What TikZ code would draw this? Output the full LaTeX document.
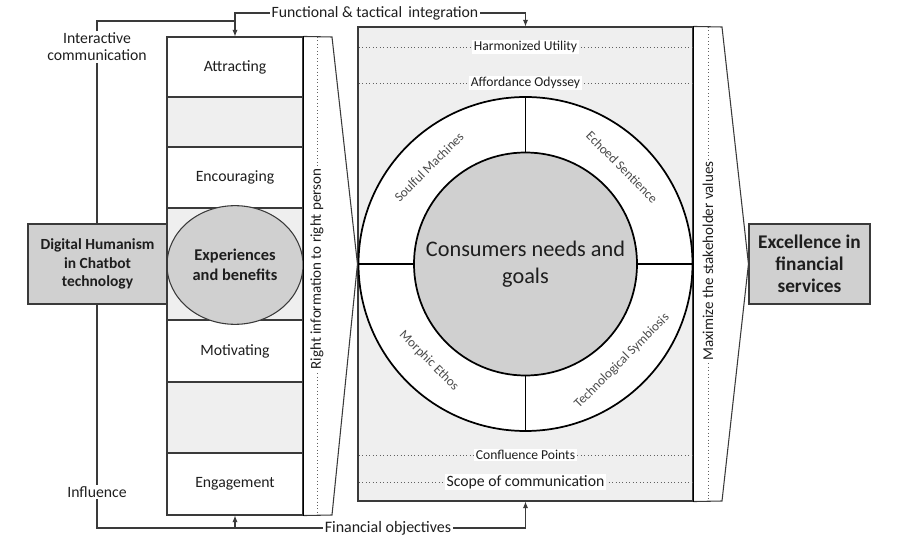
\documentclass[tikz,border=0pt]{standalone}
\usepackage{fontspec}
\setmainfont{Carlito}
\usetikzlibrary{shapes.geometric,arrows.meta}
\definecolor{cellgray}{HTML}{EFEFEF}
\definecolor{boxgray}{HTML}{D0D0D0}
\definecolor{linec}{HTML}{3A3A3A}
\definecolor{txt}{HTML}{1E1E1E}
\tikzset{
  cell/.style={draw=linec, line width=0.8pt, fill=white, minimum width=102pt, inner sep=0pt, text=txt, font=\fontsize{11.8}{13.5}\selectfont},
  graycell/.style={cell, fill=cellgray},
  keybox/.style={draw=linec, line width=0.8pt, fill=boxgray, align=center, inner sep=0pt, text=txt},
  lbl/.style={text=txt, font=\fontsize{11.8}{12.75}\selectfont, inner sep=1.2pt},
  smalllbl/.style={lbl, font=\fontsize{10.2}{12}\selectfont, fill=white},
  ringlbl/.style={text=txt!80, font=\fontsize{9.9}{11}\selectfont, inner sep=0pt},
  dotl/.style={draw=linec!80, dotted, line width=0.6pt},
  conn/.style={draw=linec, line width=0.8pt},
  arr/.style={conn, -{Latex[length=5pt,width=4pt]}},
  ringline/.style={draw=black, line width=1.3pt}
}
\begin{document}
\begin{tikzpicture}[x=0.75pt, y=-0.75pt]
\useasboundingbox (0,0) rectangle (900,545);

% central box
\node[draw=linec, line width=0.8pt, fill=cellgray, minimum width=251.25pt, minimum height=355.5pt, inner sep=0pt] (cbox) at (525.5,264) {};
\draw[dotl] (359,47) -- node[smalllbl] (hu) {Harmonized Utility} (692,47);
\draw[dotl] (359,83) -- node[smalllbl] (ao) {Affordance Odyssey} (692,83);
\draw[dotl] (359,455) -- node[smalllbl] (cp) {Confluence Points} (692,455);
\draw[dotl] (359,482) -- node[lbl, fill=white] (sc) {Scope of communication} (692,482);

% ring
\node[circle, ringline, fill=white, minimum size=250.5pt, inner sep=0pt] (ring) at (525.5,264) {};
\node[circle, ringline, fill=boxgray, minimum size=167.25pt, inner sep=0pt, align=center, text=txt, font=\fontsize{16.7}{20}\selectfont] (cons) at (525.5,264) {Consumers needs and\\goals};
\draw[ringline] (ring.north) -- (cons.north);
\draw[ringline] (ring.south) -- (cons.south);
\draw[ringline] (ring.west) -- (cons.west);
\draw[ringline] (ring.east) -- (cons.east);
\node[ringlbl, rotate=45] (sm) at (429,167) {Soulful Machines};
\node[ringlbl, rotate=-45] (es) at (622,167) {Echoed Sentience};
\node[ringlbl, rotate=-45] (me) at (429,361) {Morphic Ethos};
\node[ringlbl, rotate=45] (ts) at (622,361) {Technological Symbiosis};

% left column
\node[cell, minimum height=45pt] (att) at (235,67) {Attracting};
\node[graycell, minimum height=37.5pt] (g1) at (235,122) {};
\node[cell, minimum height=45.75pt] (enc) at (235,177.5) {Encouraging};
\node[graycell, minimum height=84pt] (g2) at (235,264) {};
\node[cell, minimum height=46.5pt] (mot) at (235,351) {Motivating};
\node[graycell, minimum height=53.25pt] (g3) at (235,417.5) {};
\node[cell, minimum height=46.5pt] (eng) at (235,484) {Engagement};
\node[ellipse, draw=linec, line width=0.8pt, fill=boxgray, minimum width=102pt, minimum height=89pt, inner sep=0pt, align=center, text=txt, font=\bfseries\fontsize{12.3}{15}\selectfont] (exp) at (235,265) {Experiences\\and benefits};

% left strip / chevron
\draw[conn] (att.north east) -- (332,37) -- (cbox.west) -- (332,515) -- (eng.south east);
\draw[dotl] (317,37) -- (317,515);
\draw[line width=1.2pt, black] (att.north east) -- (eng.south east);
\node[lbl, rotate=90, fill=white, font=\fontsize{11.3}{12}\selectfont] (rip) at (317,269) {Right information to right person};

% right strip / chevron
\node[keybox, minimum width=90.75pt, minimum height=60pt, font=\bfseries\fontsize{14.5}{16.5}\selectfont] (exc) at (809.5,264) {Excellence in\\financial\\services};
\draw[conn] (cbox.north east) -- (722,27) -- (exc.west) -- (722,501) -- (cbox.south east);
\draw[dotl] (708,27) -- (708,501);
\draw[line width=1.2pt, black] (cbox.north east) -- (cbox.south east);
\node[lbl, rotate=90, fill=white, font=\fontsize{11.3}{12}\selectfont] (msv) at (708,261) {Maximize the stakeholder values};

% top connectors
\node[lbl] (ftl) at (375,13) {Functional \& tactical\, integration};
\draw[arr] (ftl.west) -| (att.north);
\draw[arr] (ftl.east) -| (cbox.north);
\node[lbl, align=center] (icl) at (97,47) {Interactive\\communication};
\coordinate (j1) at (235,21);
\draw[conn] (icl.north) |- (j1);

% bottom connectors
\node[lbl] (infl) at (97,492) {Influence};
\draw[conn] (icl.south) -- (infl.north);
\node[lbl, font=\fontsize{12}{13}\selectfont] (fol) at (388,528) {Financial objectives};
\draw[conn] (infl.south) |- (fol.west);
\coordinate (j2) at (235,528);
\draw[arr] (j2) -- (eng.south);
\draw[arr] (fol.east) -| (cbox.south);

% digital humanism (drawn over the vertical connector)
\node[keybox, minimum width=104.25pt, minimum height=60pt, font=\bfseries\fontsize{11.6}{13.75}\selectfont] (dh) at (97.5,264) {Digital Humanism\\in Chatbot\\technology};
\end{tikzpicture}
\end{document}
